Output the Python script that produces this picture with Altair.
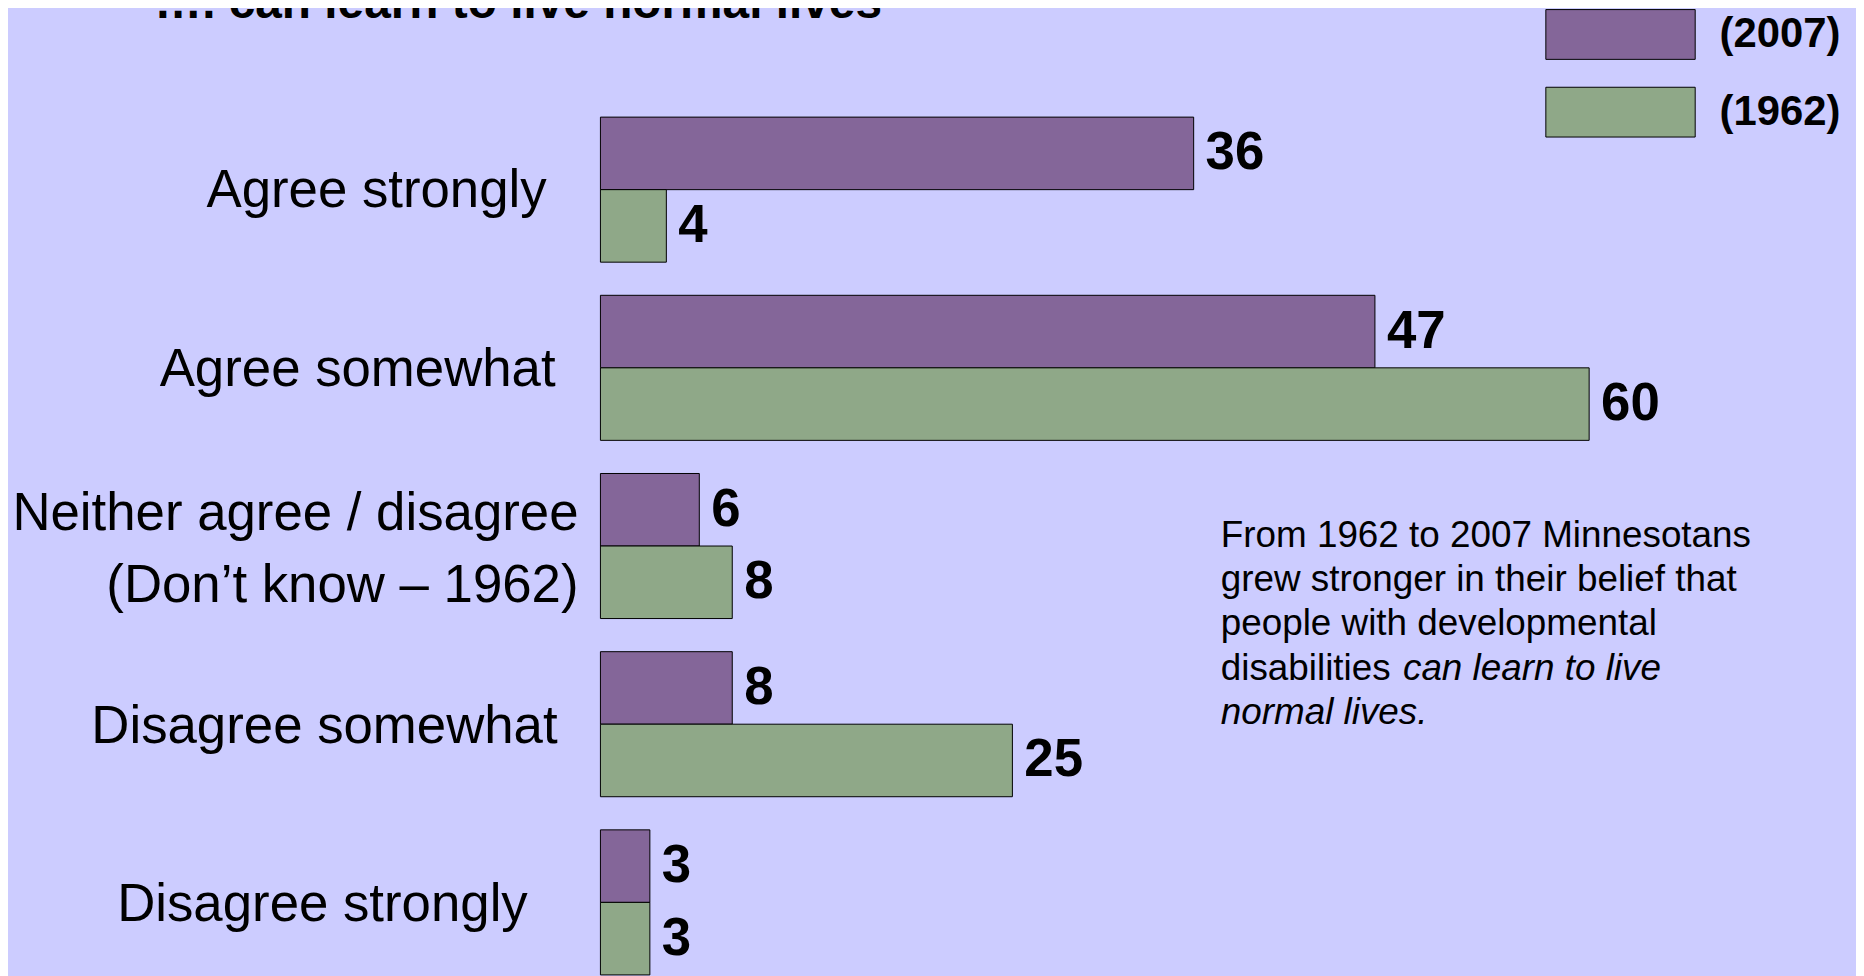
import altair as alt
import pandas as pd

# ---- data ----
categories = [
    "Agree strongly",
    "Agree somewhat",
    "Neither agree / disagree\n(Don’t know – 1962)",
    "Disagree somewhat",
    "Disagree strongly",
]
years = ["2007", "1962"]
values_2007 = [36, 47, 6, 8, 3]
values_1962 = [4, 60, 8, 25, 3]
colors = ["#846699", "#8FA888"]

title_text = "…. can learn to live normal lives"
note_regular = "From 1962 to 2007 Minnesotans\ngrew stronger in their belief that\npeople with developmental\ndisabilities"
note_italic_1 = "can learn to live"
note_italic_2 = "normal lives."

rows = []
for c, a, b in zip(categories, values_2007, values_1962):
    rows.append({"category": c, "year": "2007", "value": a})
    rows.append({"category": c, "year": "1962", "value": b})
df = pd.DataFrame(rows)
cat_df = pd.DataFrame({"category": categories})

# ---- style ----
BG = "#CCCCFF"
FONT = "Liberation Sans"
# right edge (px) and vertical nudge of each category label, as in the slide
label_style = {
    categories[0]: (541, 1),
    categories[1]: (550, 2),
    categories[2]: (573, -32),
    categories[3]: (552, 3),
    categories[4]: (522, 3),
}

x_scale = alt.Scale(domain=[0, 60], range=[595, 1588], nice=False)
y_scale = alt.Scale(range=[107.5, 969], paddingInner=0.186, paddingOuter=0)
yo_scale = alt.Scale(paddingInner=0, paddingOuter=0)

base = alt.Chart(df)

bars = base.mark_bar(stroke="black", strokeWidth=1).encode(
    x=alt.X("value:Q", scale=x_scale, axis=None),
    y=alt.Y("category:N", sort=categories, scale=y_scale, axis=None),
    yOffset=alt.YOffset("year:N", sort=years, scale=yo_scale),
    color=alt.Color(
        "year:N",
        sort=years,
        scale=alt.Scale(domain=years, range=colors),
        legend=alt.Legend(
            title=None,
            orient="none",
            legendX=1594,
            legendY=-1,
            padding=0,
            symbolType="M-3,-1H3V1H-3Z",
            symbolSize=2500,
            symbolStrokeColor="black",
            symbolStrokeWidth=1,
            symbolOpacity=1,
            labelOffset=74,
            rowPadding=23,
            labelFont=FONT,
            labelFontSize=42,
            labelFontWeight="bold",
            labelColor="black",
            labelExpr="'(' + datum.label + ')'",
            labelLimit=400,
        ),
    ),
)

value_labels = base.mark_text(
    align="left", baseline="middle", dx=12,
    font=FONT, fontSize=53, fontWeight="bold", color="black",
).encode(
    x=alt.X("value:Q", scale=x_scale, axis=None),
    y=alt.Y("category:N", sort=categories, scale=y_scale, axis=None),
    yOffset=alt.YOffset("year:N", sort=years, scale=yo_scale),
    text=alt.Text("value:Q"),
)

cat_layers = []
for cat in categories:
    xr, dy = label_style[cat]
    cat_layers.append(
        alt.Chart(cat_df).transform_filter(
            alt.FieldEqualPredicate(field="category", equal=cat)
        ).mark_text(
            align="right", baseline="middle", lineBreak="\n", lineHeight=72.5,
            font=FONT, fontSize=53, color="black", dy=dy,
        ).encode(
            x=alt.value(xr),
            y=alt.Y("category:N", sort=categories, scale=y_scale, axis=None),
            text="category:N",
        )
    )

title = alt.Chart(pd.DataFrame({"t": [title_text]})).mark_text(
    align="left", baseline="alphabetic", font=FONT, fontSize=48,
    fontWeight="bold", color="black",
).encode(x=alt.value(147), y=alt.value(8), text="t:N")

note1 = alt.Chart(pd.DataFrame({"t": [note_regular]})).mark_text(
    align="left", baseline="alphabetic", lineBreak="\n", lineHeight=44.5,
    font=FONT, fontSize=37, color="black",
).encode(x=alt.value(1218), y=alt.value(539), text="t:N")

note2 = alt.Chart(pd.DataFrame({"t": [note_italic_1]})).mark_text(
    align="left", baseline="alphabetic",
    font=FONT, fontSize=37, fontStyle="italic", color="black",
).encode(x=alt.value(1401), y=alt.value(672.5), text="t:N")

note3 = alt.Chart(pd.DataFrame({"t": [note_italic_2]})).mark_text(
    align="left", baseline="alphabetic",
    font=FONT, fontSize=37, fontStyle="italic", color="black",
).encode(x=alt.value(1218), y=alt.value(717), text="t:N")

chart = alt.layer(
    bars, value_labels, *cat_layers, title, note1, note2, note3
).properties(
    width=1856,
    height=968,
    background=BG,
    padding=0,
    autosize=alt.AutoSizeParams(type="none"),
).configure_view(stroke=None)

chart.save("out.html", embed_options={"renderer": "svg", "actions": False})
